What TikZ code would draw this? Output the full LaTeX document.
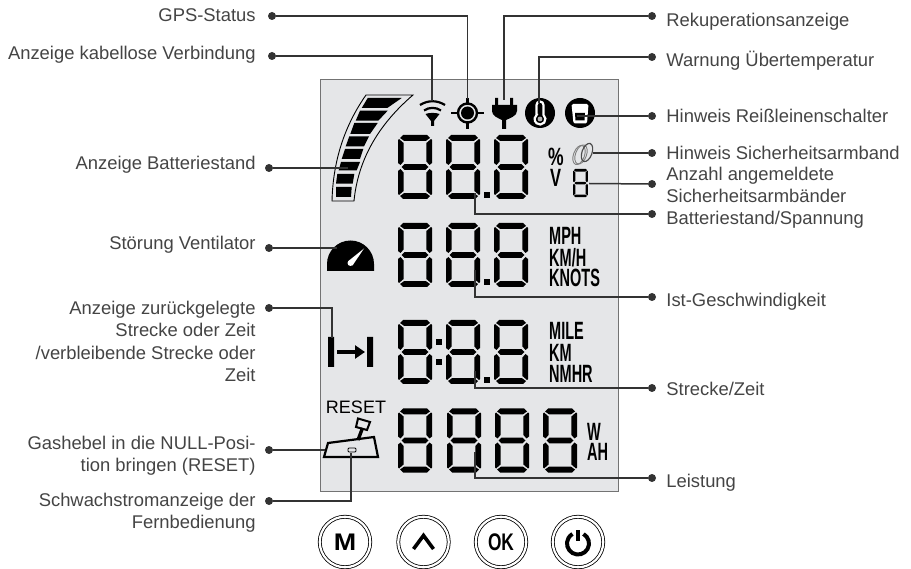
\documentclass[tikz,border=0pt]{standalone}
\usepackage{fontspec}
\setmainfont{Liberation Sans}
\usepackage{tikz}
\usetikzlibrary{arrows.meta}
\usetikzlibrary{positioning, shapes.geometric}

\definecolor{lcdgrey}{HTML}{E5E6E8}
\definecolor{leadergrey}{HTML}{333333}
\definecolor{textgrey}{HTML}{444444}

\newcommand{\lcdunit}[2][.58]{\scalebox{#1}[1]{#2}}

\tikzset{
    lbl/.style={font=\fontsize{18.4}{22.6}\selectfont, text=textgrey, inner sep=0pt, align=right},
    rlbl/.style={lbl, align=left},
    dot/.style={circle, fill=leadergrey, inner sep=0pt, minimum size=8pt},
    leader/.style={draw=leadergrey, line width=1.5pt},
    lcdbox/.style={draw=black!55, fill=lcdgrey, line width=1pt, inner sep=0pt, minimum width=298pt, minimum height=411pt},
    unitlabel/.style={font=\fontsize{25}{25}\selectfont\bfseries, text=black, inner sep=0pt, anchor=west},
    btn/.style={circle, draw=black, double=white, double distance=2.2pt, line width=.8pt, inner sep=0pt, minimum size=50.5pt, font=\fontsize{24}{24}\selectfont\bfseries},
    lcddigit/.pic={
        \fill (5,0) -- (29,0) -- (32,3) -- (28,5.8) -- (6,5.8) -- (2,3) -- cycle;
        \fill (5,64) -- (29,64) -- (32,61) -- (28,58.2) -- (6,58.2) -- (2,61) -- cycle;
        \fill (3.5,32) -- (6.5,29.1) -- (27.5,29.1) -- (30.5,32) -- (27.5,34.9) -- (6.5,34.9) -- cycle;
        \fill (0,5) -- (1,4) -- (5.6,8) -- (5.6,26.5) -- (2.5,30) -- (0,28) -- cycle;
        \fill (34,5) -- (33,4) -- (28.4,8) -- (28.4,26.5) -- (31.5,30) -- (34,28) -- cycle;
        \fill (0,59) -- (1,60) -- (5.6,56) -- (5.6,37.5) -- (2.5,34) -- (0,36) -- cycle;
        \fill (34,59) -- (33,60) -- (28.4,56) -- (28.4,37.5) -- (31.5,34) -- (34,36) -- cycle;
    },
}

\begin{document}
\begin{tikzpicture}[x=1pt, y=-1pt]
    \useasboundingbox (0,0) rectangle (911,569);

    \node[lcdbox] (lcd) at (469,285.5) {};

    % Digits
    \foreach \x in {398,446,494}
        \foreach \y in {135,223,320}
            \pic at (\x,\y) {lcddigit};
    \foreach \x in {398,447,495,543}
        \pic at (\x,408.5) {lcddigit};
    \pic[scale=.44] at (573,169) {lcddigit};
    \foreach \x/\y in {484/192, 484/279.5, 484/377, 436/339, 436/359}
        \fill (\x,\y) rectangle ++(6,6);

    % Battery gauge
    \draw[line width=.9pt] (332,201) .. controls (333,160) and (345,125) .. (366,95) -- (413,95)
        .. controls (378,125) and (358,160) .. (354,201) -- cycle;
    \foreach \a/\b/\c/\d/\e/\f in {367.7/401.7/98/387.3/361.7/108, 360/387.7/110.7/378.3/355.7/120.7,
        354.3/377.7/123/370/350.3/134, 349.3/369/136.3/364/345.7/146.3, 345/363.3/149/360/341.7/159,
        341/360/162/356.7/338.7/170.3, 337.3/354.3/174/352.7/336/183.7, 336/351.7/187/351/336/197}
        \fill (\a,\c) -- (\b,\c) -- (\d,\f) -- (\e,\f) -- cycle;

    % Status icons
    \draw[line width=2.2pt] (420,105) .. controls (428,100) and (437,100) .. (445,105);
    \draw[line width=2.2pt] (424,110.5) .. controls (429,107) and (436,107) .. (441,110.5);
    \fill (425.5,114) .. controls (429,112.5) and (436,112.5) .. (439.5,114) -- (434,121) -- (434,126)
        -- (431,126) -- (431,121) -- cycle;

    \fill (467.5,113) circle (6.5);
    \draw[line width=2.4pt] (467.5,113) circle (9.5);
    \draw[line width=2.2pt] (451,113) -- (458,113) (477,113) -- (484,113) (467.5,98) -- (467.5,104)
        (467.5,122) -- (467.5,129);

    \fill (495,98) rectangle (498,106) (510,98) rectangle (513,106);
    \fill (492,105) -- (517,105) -- (517,111) .. controls (517,116) and (510,118) .. (506,120) -- (506,129)
        -- (502,129) -- (502,120) .. controls (498,118) and (492,116) .. (492,111) -- cycle;

    \fill (540,113) circle (15);
    \draw[white, line width=2.2pt] (536.5,115) -- (536.5,105) arc[start angle=180, end angle=360, radius=3.5]
        -- (543.5,115) arc[start angle=-50, end angle=230, radius=5.4] -- cycle;
    \fill[white!70!black] (540,119) circle (2.4);

    \fill (580,113) circle (15);
    \fill[white, rounded corners=1.5pt] (571.5,104) -- (588.5,104) -- (587,123.5) -- (573.5,123.5) -- cycle;
    \fill (575,113) -- (585,113) -- (584.5,120.5) -- (575.5,120.5) -- cycle;

    \draw[black!50, line width=.9pt, rotate around={-20:(579,155)}] (579,155) ellipse (5.5 and 10);
    \draw[black!50, line width=.9pt, rotate around={-20:(581,154.5)}] (581,154.5) ellipse (5.5 and 10);
    \draw[black!70, line width=1.2pt, rotate around={-20:(587,152.5)}] (587,152.5) ellipse (5 and 9.5);

    % Unit labels
    \node[unitlabel] (percent) at (548,156.5) {\lcdunit[.7]{\%}};
    \node[unitlabel] (volt) at (550,177.5) {\lcdunit[.66]{V}};
    \node[unitlabel] (mph) at (549,236) {\lcdunit{MPH}};
    \node[unitlabel] (kmh) at (549,257.5) {\lcdunit{KM/H}};
    \node[unitlabel] (knots) at (549,277.5) {\lcdunit{KNOTS}};
    \node[unitlabel] (mile) at (549,331) {\lcdunit{MILE}};
    \node[unitlabel] (km) at (549,352.5) {\lcdunit{KM}};
    \node[unitlabel] (nmhr) at (549,374) {\lcdunit{NMHR}};
    \node[unitlabel] (watt) at (587,431.5) {\lcdunit{W}};
    \node[unitlabel] (wah) at (587,452) {\lcdunit{AH}};

    % Speedometer and distance
    \fill (327,271) -- (327,264) arc[start angle=180, end angle=360, radius=23.5] -- (374,271) -- cycle;
    \fill[white] (349,260.5) -- (364,248.5) -- (352.5,265.5) -- cycle;
    \fill[white] (350.5,263) circle (3);
    \fill (328,337) rectangle (334,367) (367,337) rectangle (373,367);
    \draw[line width=3.5pt, -{Triangle[length=10pt, width=13pt]}] (337,352) -- (365,352);

    % Throttle lever
    \node[font=\fontsize{18}{18}\selectfont, inner sep=0pt] (reset) at (356,407) {RESET};
    \draw[line width=2.2pt] (324,457) -- (328,443) -- (374,437) -- (378,457) -- cycle;
    \draw[line width=3.4pt] (358,440) -- (362.5,428);
    \draw[line width=2pt] (358,418.5) -- (370,422) -- (367,430) -- (356,427) -- cycle;
    \draw[line width=.9pt, rounded corners=1pt] (348,448) rectangle (356,452);

    % Buttons
    \node[btn] (mbtn) at (345,542) {\scalebox{1.12}[1]{M}};
    \node[btn] (upbtn) at (423.5,542) {};
    \node[btn] (okbtn) at (501,542) {\lcdunit[.72]{OK}};
    \node[btn] (powerbtn) at (578,542) {};
    \draw[line width=3.6pt] (413.5,549) -- (423.5,535.5) -- (433.5,549);
    \draw[line width=4pt] (578,543.5) ++(-60:11) arc[start angle=-60, end angle=240, radius=11];
    \draw[line width=4.5pt] (578,530) -- (578,541);

    % Left labels
    \node[dot] (gpsdot) at (272,16) {};
    \node[dot] (wifidot) at (272,56) {};
    \node[dot] (battdot) at (269,168) {};
    \node[dot] (fandot) at (269,248) {};
    \node[dot] (distdot) at (269,308) {};
    \node[dot] (throttledot) at (269,450) {};
    \node[dot] (lowdot) at (269,501) {};
    \node[lbl, left=12pt of gpsdot, yshift=1pt] (gpslbl) {GPS-Status};
    \node[lbl, left=12pt of wifidot, yshift=1pt] (wifilbl) {Anzeige kabellose Verbindung};
    \node[lbl, left=9pt of battdot, yshift=3pt] (battlbl) {Anzeige Batteriestand};
    \node[lbl, left=9pt of fandot, yshift=3pt] (fanlbl) {Störung Ventilator};
    \node[lbl, left=9pt of distdot, anchor=north east, yshift=7.5pt] (distlbl) {Anzeige zurückgelegte\\Strecke oder Zeit\\/verbleibende Strecke oder\\Zeit};
    \node[lbl, left=9pt of throttledot, anchor=north east, yshift=14.5pt] (throttlelbl) {Gashebel in die NULL-Posi-\\tion bringen (RESET)};
    \node[lbl, left=9pt of lowdot, anchor=north east, yshift=8.5pt] (lowlbl) {Schwachstromanzeige der\\Fernbedienung};

    % Right labels
    \node[dot] (recudot) at (652,16) {};
    \node[dot] (tempdot) at (652,57) {};
    \node[dot] (pulldot) at (652,116) {};
    \node[dot] (banddot) at (652,153) {};
    \node[dot] (countdot) at (652,184) {};
    \node[dot] (leveldot) at (652,214) {};
    \node[dot] (speeddot) at (652,297) {};
    \node[dot] (tripdot) at (652,388) {};
    \node[dot] (powerdot) at (652,478) {};
    \node[rlbl, right=10pt of recudot, yshift=-5.5pt] (reculbl) {Rekuperationsanzeige};
    \node[rlbl, right=10pt of tempdot, yshift=-4pt] (templbl) {Warnung Übertemperatur};
    \node[rlbl, right=10pt of pulldot] (pulllbl) {Hinweis Reißleinenschalter};
    \node[rlbl, right=10pt of banddot] (bandlbl) {Hinweis Sicherheitsarmband};
    \node[rlbl, right=10pt of countdot, yshift=-1pt] (countlbl) {Anzahl angemeldete\\Sicherheitsarmbänder};
    \node[rlbl, right=10pt of leveldot, yshift=-6pt] (levellbl) {Batteriestand/Spannung};
    \node[rlbl, right=10pt of speeddot, yshift=-5pt] (speedlbl) {Ist-Geschwindigkeit};
    \node[rlbl, right=10pt of tripdot, yshift=-1pt] (triplbl) {Strecke/Zeit};
    \node[rlbl, right=10pt of powerdot, yshift=-5pt] (powerlbl) {Leistung};

    % Leader ends on the display
    \coordinate (wifiend) at (432,101);
    \coordinate (gpsend) at (467.5,99);
    \coordinate (recuend) at (504,100);
    \coordinate (tempend) at (539,103);
    \coordinate (pullend) at (577,116);
    \coordinate (bandend) at (593,153);
    \coordinate (countend) at (589,183.5);
    \coordinate (levelend) at (475,193);
    \coordinate (speedend) at (475,270);
    \coordinate (tripend) at (475,371);
    \coordinate (powerend) at (475,452);
    \coordinate (battend) at (348,168);
    \coordinate (fanend) at (337,248);
    \coordinate (distend) at (332,338);
    \coordinate (throttleend) at (325,450);
    \coordinate (lowend) at (351,453);

    \draw[leader] (gpsdot) -| (gpsend);
    \draw[leader] (wifidot) -| (wifiend);
    \draw[leader] (battdot) -- (battend);
    \draw[leader] (fandot) -- (fanend);
    \draw[leader] (distdot) -| (distend);
    \draw[leader] (throttledot) -- (throttleend);
    \draw[leader] (lowdot) -| (lowend);
    \draw[leader] (recudot) -| (recuend);
    \draw[leader] (tempdot) -| (tempend);
    \draw[leader] (pulldot) -- (pullend);
    \draw[leader] (banddot) -- (bandend);
    \draw[leader] (countdot) -- (countend);
    \draw[leader] (leveldot) -| (levelend);
    \draw[leader] (speeddot) -| (speedend);
    \draw[leader] (tripdot) -| (tripend);
    \draw[leader] (powerdot) -| (powerend);
\end{tikzpicture}
\end{document}
